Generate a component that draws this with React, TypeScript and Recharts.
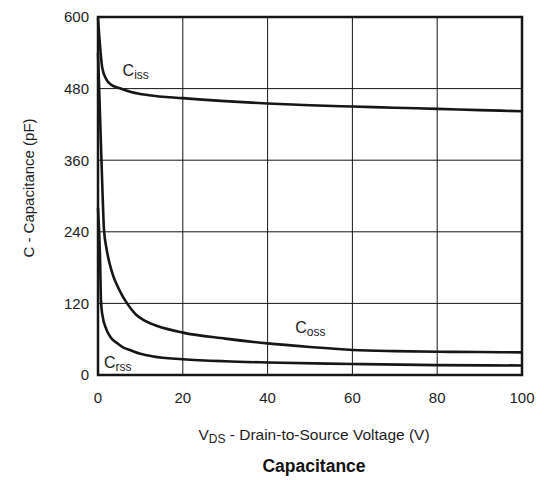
import {
	CartesianGrid,
	Line,
	LineChart,
	ReferenceArea,
	ReferenceDot,
	XAxis,
	YAxis,
} from "recharts";

// Curves (V in volts, C in pF)
const cissV = [0, 0.5, 1, 2, 3, 5, 8, 12, 20, 30, 40, 50, 60, 70, 80, 90, 100];
const cissC = [598, 550, 515, 495, 487, 481, 474, 469, 464, 459, 455, 452, 450, 448, 446, 444, 442];

const cossV = [0, 0.5, 1, 1.4, 2, 2.8, 3.6, 4.4, 5.5, 6.4, 8, 9, 11, 14, 20, 30, 40, 50, 60, 70, 80, 90, 100];
const cossC = [540, 430, 320, 245, 212, 185, 166, 152, 136, 125, 109, 101, 91, 82, 71, 61, 53, 47, 42, 40, 39, 38.5, 38];

const crssV = [0, 0.5, 0.7, 1, 2, 3, 4.4, 6, 7.5, 10, 13, 20, 30, 40, 60, 80, 100];
const crssC = [280, 190, 125, 102, 76, 63, 54, 46, 42, 35.5, 31, 26.5, 23, 21, 18.5, 16.5, 16];

const xTicks = [0, 20, 40, 60, 80, 100];
const yTicks = [0, 120, 240, 360, 480, 600];

const curveLabels = [
	{ name: "C", sub: "iss", v: 5.8, c: 501 },
	{ name: "C", sub: "oss", v: 46.5, c: 70 },
	{ name: "C", sub: "rss", v: 1.4, c: 11 },
];

const toPoints = (vs: number[], cs: number[]) =>
	vs.map((v, i) => ({ v, c: cs[i] }));

const ciss = toPoints(cissV, cissC);
const coss = toPoints(cossV, cossC);
const crss = toPoints(crssV, crssC);

const INK = "#161616";
const TEXT = "#1c1c24";
const FONT = "'Liberation Sans', Arial, sans-serif";

const CurveLabel = ({ viewBox, name, sub }: any) => {
	if (!viewBox) return null;
	return (
		<text x={viewBox.x} y={viewBox.y} fill={TEXT} fontFamily={FONT} fontSize={16}>
			{name}
			<tspan fontSize={12} dy={3}>
				{sub}
			</tspan>
		</text>
	);
};

const XLabel = ({ viewBox }: any) => {
	if (!viewBox) return null;
	const cx = viewBox.x + viewBox.width / 2 + 4;
	return (
		<g fontFamily={FONT} fill={TEXT}>
			<text x={cx} y={440} textAnchor="middle" fontSize={15.5}>
				V<tspan fontSize={12} dy={3}>DS</tspan>
				<tspan dy={-3}> - Drain-to-Source Voltage (V)</tspan>
			</text>
			<text x={cx} y={472} textAnchor="middle" fontSize={17.5} fontWeight="bold" fill="#111">
				Capacitance
			</text>
		</g>
	);
};

const YLabel = () => (
	<text
		x={28}
		y={188}
		transform="rotate(-90 28 188)"
		textAnchor="middle"
		dominantBaseline="central"
		fontFamily={FONT}
		fontSize={15}
		fill={TEXT}
	>
		C - Capacitance (pF)
	</text>
);

export default function App() {
	return (
		<div style={{ position: "absolute", left: 0, top: 0, width: 544, height: 480, background: "#fff" }}>
			<LineChart
				width={544}
				height={480}
				margin={{ top: 17, right: 22, left: 0, bottom: 75 }}
			>
				<CartesianGrid stroke={INK} strokeWidth={1} />
				<XAxis
					type="number"
					dataKey="v"
					domain={[0, 100]}
					ticks={xTicks}
					height={30}
					axisLine={false}
					tickLine={false}
					tickSize={0}
					tickMargin={17}
					tick={{ fill: TEXT, fontSize: 15, fontFamily: FONT }}
					label={<XLabel />}
				/>
				<YAxis
					type="number"
					dataKey="c"
					domain={[0, 600]}
					ticks={yTicks}
					width={98}
					axisLine={false}
					tickLine={false}
					tickSize={0}
					tickMargin={9}
					tick={{ fill: TEXT, fontSize: 15, fontFamily: FONT }}
					label={<YLabel />}
				/>
				<ReferenceArea
					x1={0}
					x2={100}
					y1={0}
					y2={600}
					fill="none"
					stroke={INK}
					strokeWidth={2.5}
				/>
				<Line data={ciss} dataKey="c" type="monotone" stroke={INK} strokeWidth={2.6} dot={false} isAnimationActive={false} />
				<Line data={coss} dataKey="c" type="monotone" stroke={INK} strokeWidth={2.6} dot={false} isAnimationActive={false} />
				<Line data={crss} dataKey="c" type="monotone" stroke={INK} strokeWidth={2.6} dot={false} isAnimationActive={false} />
				{curveLabels.map((l) => (
					<ReferenceDot
						key={l.sub}
						x={l.v}
						y={l.c}
						r={0}
						stroke="none"
						fill="none"
						label={<CurveLabel name={l.name} sub={l.sub} />}
					/>
				))}
			</LineChart>
		</div>
	);
}
